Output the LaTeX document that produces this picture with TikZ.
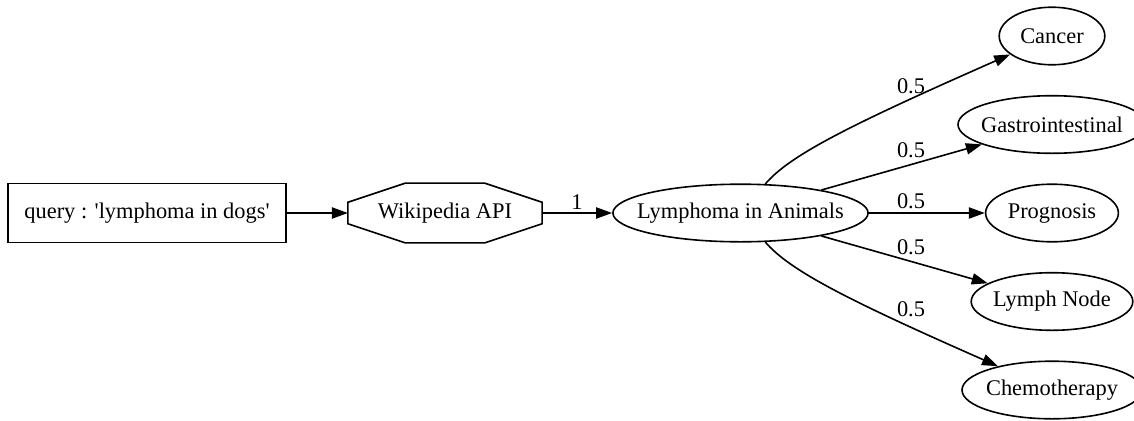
\documentclass[tikz,border=0pt]{standalone}
\usepackage{fontspec}
\setmainfont{Liberation Serif}
\usetikzlibrary{shapes.geometric,arrows.meta}
\newcommand{\nowidth}[1]{\makebox[0pt]{#1}}
\begin{document}
\begin{tikzpicture}[x=0.625pt,y=-0.625pt,
	font=\fontsize{14}{17}\selectfont,
	every node/.style={inner sep=0pt},
	gvline/.style={line width=1pt},
	gvedge/.style={gvline,-{Triangle[length=10pt,width=7pt]}},
	leaf/.style={gvline,draw,ellipse,minimum height=36pt}]
	\useasboundingbox (0,0) rectangle (1134,420);
	% query, api, article
	\node[gvline,draw,minimum width=174pt,minimum height=37pt] (query) at (147,213) {query : \textquotesingle lymphoma in dogs\textquotesingle};
	\node[minimum width=121pt,minimum height=37pt] (wiki) at (445,213) {Wikipedia API};
	\draw[gvline] ([xshift=36pt]wiki.north west) -- ([xshift=-36pt]wiki.north east) -- ([yshift=-12pt]wiki.north east) -- ([yshift=12pt]wiki.south east) -- ([xshift=-36pt]wiki.south east) -- ([xshift=36pt]wiki.south west) -- ([yshift=12pt]wiki.south west) -- ([yshift=-12pt]wiki.north west) -- cycle;
	\node[leaf,minimum width=159.5pt] (lym) at (740.5,213) {\nowidth{Lymphoma in Animals}};
	% linked pages
	\foreach \nm/\txt/\yy/\ww in {cancer/Cancer/36/66pt,gastro/Gastrointestinal/124.5/117.5pt,prog/Prognosis/213/83pt,lnode/Lymph Node/301.5/101pt,chemo/Chemotherapy/390/112.5pt}
	\node[leaf,minimum width=\ww] (\nm) at (1052,\yy) {\nowidth{\txt}};
	\draw[gvedge] (query) -- (wiki);
	\draw[gvedge] (wiki) -- (lym);
	\draw[gvedge] (lym) .. controls (790,155) and (850,125) .. (cancer);
	\foreach \nm in {gastro,prog,lnode}
	\draw[gvedge] (lym) -- (\nm);
	\draw[gvedge] (lym) .. controls (790,271) and (850,301) .. (chemo);
	% weights
	\node (w0) at (577,202) {1};
	\foreach \yy [count=\i] in {86,150,201,247,309}
	\node (w\i) at (911,\yy) {0.5};
\end{tikzpicture}
\end{document}
